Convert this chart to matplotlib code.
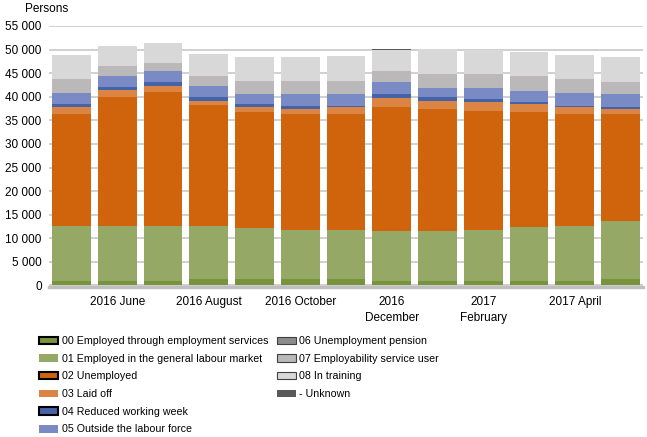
import numpy as np
import matplotlib
matplotlib.use("Agg")
import matplotlib.pyplot as plt
from matplotlib.patches import Rectangle

plt.rcParams['font.family'] = ['Liberation Sans', 'DejaVu Sans']

# --- Data (persons) ---
months = ['2016 May', '2016 June', '2016 July', '2016 August', '2016 September',
          '2016 October', '2016 November', '2016 December', '2017 January',
          '2017 February', '2017 March', '2017 April', '2017 May']
tick_labels = ['', '2016 June', '', '2016 August', '', '2016 October', '',
               '2016\nDecember', '', '2017\nFebruary', '', '2017 April', '']

employed_services = [950, 950, 950, 1440, 1440, 1440, 1440, 950, 950, 950, 950, 950, 1440]
employed_general = [11750, 11750, 11750, 11260, 10850, 10420, 10420, 10700, 10700, 10910, 11550, 11760, 12330]
unemployed = [23740, 27340, 28400, 25650, 24570, 24580, 24580, 26270, 25850, 25220, 24360, 23730, 22670]
laid_off = [1480, 1310, 1270, 840, 1060, 1060, 1480, 1910, 1690, 1900, 1700, 1480, 1060]
reduced_week = [640, 810, 850, 850, 640, 640, 220, 850, 850, 640, 420, 220, 420]
outside_labour = [2330, 2330, 2330, 2330, 2120, 2540, 2540, 2540, 1910, 2330, 2330, 2750, 2760]
unemp_pension = [0, 0, 0, 0, 0, 0, 0, 0, 0, 0, 0, 0, 0]
employability = [2970, 2120, 1700, 2120, 2750, 2750, 2750, 2330, 2970, 2970, 3180, 2970, 2540]
in_training = [5080, 4240, 4230, 4660, 5090, 5090, 5300, 4450, 5290, 5080, 5090, 5080, 5300]
unknown = [0, 0, 0, 0, 0, 0, 0, 200, 0, 0, 0, 0, 0]

series = [
    ('00 Employed through employment services', employed_services, '#77933c'),
    ('01 Employed in the general labour market', employed_general, '#95a865'),
    ('02 Unemployed', unemployed, '#d0640c'),
    ('03 Laid off', laid_off, '#dc8444'),
    ('04 Reduced working week', reduced_week, '#4563a8'),
    ('05 Outside the labour force', outside_labour, '#7a8ac4'),
    ('06 Unemployment pension', unemp_pension, '#8c8c8c'),
    ('07 Employability service user', employability, '#bab8b8'),
    ('08 In training', in_training, '#d8d8d8'),
    ('- Unknown', unknown, '#595959'),
]

# --- Figure ---
fig = plt.figure(figsize=(6.47, 4.37), dpi=100)
# y range starts a little below zero so the grey base line sits under the bars
ax = fig.add_axes([48.6 / 647, (437 - 288.8) / 437, 594.8 / 647, 262.8 / 437])

x = np.arange(len(months))
bottom = np.zeros(len(months))
for label, vals, col in series:
    vals = np.array(vals, dtype=float)
    ax.bar(x, vals, width=0.85, bottom=bottom, color=col, linewidth=0, zorder=2)
    bottom += vals

ax.set_xlim(-0.5, len(months) - 0.5)
ax.set_ylim(-700, 55000)
yt = np.arange(0, 55001, 5000)
ax.set_yticks(yt)
ax.set_yticklabels([f"{v:,}".replace(',', ' ') for v in yt], fontsize=8.5)
ax.set_xticks(x)
ax.set_xticklabels(tick_labels, fontsize=8.5, linespacing=1.45)
ax.tick_params(axis='both', length=0)
ax.tick_params(axis='y', pad=5)
ax.tick_params(axis='x', pad=5.5)
ax.yaxis.grid(True, color='#c8c8c8', linewidth=1.2, zorder=0)
ax.set_axisbelow(True)
for s in ax.spines.values():
    s.set_visible(False)
ax.axhline(-350, color='#bfbfbf', linewidth=2.4, zorder=3, clip_on=False)

fig.text(25 / 647, 1 - 9 / 437, 'Persons', fontsize=8.5, va='center', ha='left')

# --- Legend (two separate columns) ---
edge_style = {0: ('black', 1.5), 2: ('black', 1.5), 4: ('black', 1.5),
              6: ('#404040', 0.8), 7: ('#404040', 0.8), 8: ('#404040', 0.8)}
handles = []
for i, (label, vals, col) in enumerate(series):
    ec, lw = edge_style.get(i, ('none', 0))
    handles.append(Rectangle((0, 0), 1, 1, facecolor=col, edgecolor=ec, linewidth=lw, label=label))

leg_kw = dict(frameon=False, fontsize=7.7, handlelength=1.75, handleheight=0.7,
              borderpad=0, borderaxespad=0, labelspacing=0.72, loc='upper left')
leg1 = fig.legend(handles=handles[:6], bbox_to_anchor=(39 / 647, 1 - 336 / 437),
                  handletextpad=0.4, **leg_kw)
leg2 = fig.legend(handles=handles[6:], bbox_to_anchor=(277 / 647, 1 - 336 / 437),
                  handletextpad=0.3, **leg_kw)

fig.savefig('out.png', dpi=100)
